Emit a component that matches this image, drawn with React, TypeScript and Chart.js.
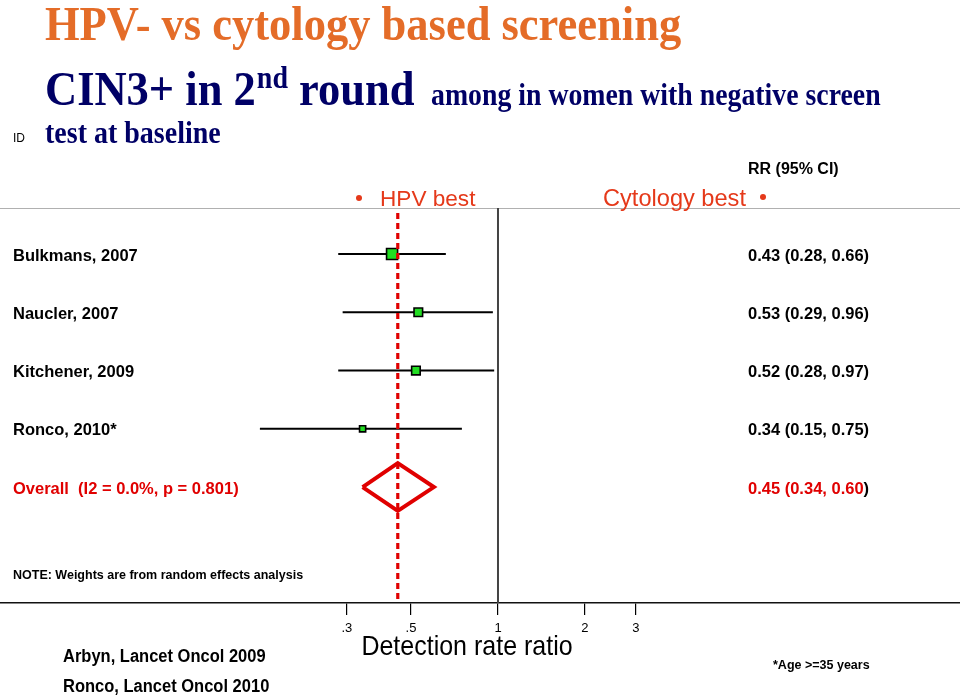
import React, { useEffect, useRef } from "react";
import { Chart, registerables } from "chart.js";

Chart.register(...registerables);

// ---------- data ----------
const studies = ["Bulkmans, 2007", "Naucler, 2007", "Kitchener, 2009", "Ronco, 2010*"];
const rr = [0.43, 0.53, 0.52, 0.34];
const lower = [0.28, 0.29, 0.28, 0.15];
const upper = [0.66, 0.96, 0.97, 0.75];
const weights = [39.7, 24.0, 24.0, 12.3];
const overallLabel = "Overall  (I2 = 0.0%, p = 0.801)";
const overallRR = 0.45;
const overallLower = 0.34;
const overallUpper = 0.6;
const tickValues = [0.3, 0.5, 1, 2, 3];
const tickLabels = [".3", ".5", "1", "2", "3"];

// ---------- layout / style constants ----------
const W = 960;
const H = 696;
const X_MIN = 0.01891;
const X_MAX = 39.7;
const Y_MIN = -0.79;
const Y_MAX = 5.99;
const OVERALL_ROW = 4;
const DIAMOND_HALF = 0.41;
const NAVY = "#000066";
const ORANGE = "#E46C28";
const RED_ORANGE = "#E5391A";
const RED = "#E00000";
const SANS = '"Liberation Sans", Arial, sans-serif';
const SERIF = '"Liberation Serif", "Times New Roman", serif';

const fmt = (v: number) => v.toFixed(2);

function txt(
  ctx: CanvasRenderingContext2D,
  s: string,
  x: number,
  y: number,
  font: string,
  color: string,
  opts: { align?: CanvasTextAlign; sy?: number; sx?: number; baseline?: CanvasTextBaseline } = {}
) {
  ctx.save();
  ctx.translate(x, y);
  ctx.scale(opts.sx ?? 1, opts.sy ?? 1);
  ctx.font = font;
  ctx.fillStyle = color;
  ctx.textAlign = opts.align ?? "left";
  ctx.textBaseline = opts.baseline ?? "alphabetic";
  ctx.fillText(s, 0, 0);
  const w = ctx.measureText(s).width * (opts.sx ?? 1);
  ctx.restore();
  return w;
}

const backgroundPlugin = {
  id: "bg",
  beforeDraw(chart: any) {
    const ctx = chart.ctx;
    ctx.save();
    ctx.fillStyle = "#ffffff";
    ctx.fillRect(0, 0, chart.width, chart.height);
    ctx.restore();
  },
};

const refLinesPlugin = {
  id: "refLines",
  beforeDatasetsDraw(chart: any) {
    const { ctx, chartArea, scales } = chart;
    const x1 = scales.x.getPixelForValue(1);
    ctx.save();
    // top gray rule
    ctx.strokeStyle = "#b0b0b0";
    ctx.lineWidth = 1;
    ctx.beginPath();
    ctx.moveTo(0, chartArea.top + 0.5);
    ctx.lineTo(W, chartArea.top + 0.5);
    ctx.stroke();
    // null line at RR = 1
    ctx.strokeStyle = "#444";
    ctx.lineWidth = 2;
    ctx.beginPath();
    ctx.moveTo(x1, chartArea.top);
    ctx.lineTo(x1, chartArea.bottom);
    ctx.stroke();
    ctx.restore();
  },
  afterDatasetsDraw(chart: any) {
    const { ctx, chartArea, scales } = chart;
    const xo = scales.x.getPixelForValue(overallRR);
    ctx.save();
    ctx.strokeStyle = RED;
    ctx.lineWidth = 3.2;
    ctx.setLineDash([6, 4]);
    ctx.beginPath();
    ctx.moveTo(xo, chartArea.top + 5);
    ctx.lineTo(xo, chartArea.bottom);
    ctx.stroke();
    ctx.restore();
  },
};

const textPlugin = {
  id: "slideText",
  afterDraw(chart: any) {
    const { ctx, scales } = chart;
    const ys = scales.y;
    // headings
    txt(ctx, "HPV- vs cytology based screening", 45, 40, `bold 44.5px ${SERIF}`, ORANGE, { sy: 1.07 });
    let x = 45;
    x += txt(ctx, "CIN3+ in 2", x, 105, `bold 44.5px ${SERIF}`, NAVY, { sy: 1.1 });
    x += 1;
    x += txt(ctx, "nd", x, 88, `bold 28px ${SERIF}`, NAVY, { sy: 1.1 });
    txt(ctx, " round", x, 105, `bold 44.5px ${SERIF}`, NAVY, { sy: 1.1 });
    txt(ctx, "among in women with negative screen", 431, 105, `bold 27.8px ${SERIF}`, NAVY, { sy: 1.1 });
    txt(ctx, "ID", 13, 142, `12px ${SANS}`, "#000");
    txt(ctx, "test at baseline", 45, 143, `bold 28px ${SERIF}`, NAVY, { sy: 1.1 });

    // direction labels
    ctx.save();
    ctx.fillStyle = RED_ORANGE;
    ctx.beginPath();
    ctx.arc(359, 198, 3, 0, Math.PI * 2);
    ctx.fill();
    ctx.beginPath();
    ctx.arc(763, 197, 3, 0, Math.PI * 2);
    ctx.fill();
    ctx.restore();
    txt(ctx, "HPV best", 380, 206, `22.6px ${SANS}`, RED_ORANGE);
    txt(ctx, "Cytology best", 603, 206, `23.6px ${SANS}`, RED_ORANGE);
    txt(ctx, "RR (95% CI)", 748, 174, `bold 16px ${SANS}`, "#000");

    // rows
    const rowFont = `bold 16.5px ${SANS}`;
    studies.forEach((s, i) => {
      const y = ys.getPixelForValue(i) + 2;
      txt(ctx, s, 13, y, rowFont, "#000", { baseline: "middle" });
      txt(ctx, `${fmt(rr[i])} (${fmt(lower[i])}, ${fmt(upper[i])})`, 748, y, rowFont, "#000", { baseline: "middle" });
    });
    const yo = ys.getPixelForValue(OVERALL_ROW) + 2;
    txt(ctx, overallLabel, 13, yo, rowFont, RED, { baseline: "middle" });
    const wr = txt(ctx, `${fmt(overallRR)} (${fmt(overallLower)}, ${fmt(overallUpper)}`, 748, yo, rowFont, RED, { baseline: "middle" });
    txt(ctx, ")", 748 + wr, yo, rowFont, "#000", { baseline: "middle" });

    txt(ctx, "NOTE: Weights are from random effects analysis", 13, 579, `bold 12.5px ${SANS}`, "#000");

    // axis title
    txt(ctx, "Detection rate ratio", 467, 655, `25px ${SANS}`, "#000", { align: "center", sy: 1.12 });

    // footnotes
    txt(ctx, "Arbyn, Lancet Oncol 2009", 63, 662, `bold 16.5px ${SANS}`, "#000", { sy: 1.1 });
    txt(ctx, "Ronco, Lancet Oncol 2010", 63, 692, `bold 16.5px ${SANS}`, "#000", { sy: 1.1 });
    txt(ctx, "*Age >=35 years", 773, 669, `bold 12.5px ${SANS}`, "#000");
  },
};

export default function App() {
  const ref = useRef<HTMLCanvasElement | null>(null);

  useEffect(() => {
    if (!ref.current) return;
    const squareRadius = weights.map((w) => (1.75 * Math.sqrt(w)) / Math.SQRT2);

    const ciSets = studies.map((s, i) => ({
      type: "scatter" as const,
      label: s + " CI",
      data: [
        { x: lower[i], y: i },
        { x: upper[i], y: i },
      ],
      showLine: true,
      borderColor: "#000",
      borderWidth: 2,
      pointRadius: 0,
      fill: false,
      order: 3,
    }));

    const chart = new Chart(ref.current, {
      type: "scatter",
      data: {
        datasets: [
          {
            label: "RR",
            data: rr.map((v, i) => ({ x: v, y: i })),
            pointStyle: "rect",
            pointRadius: squareRadius,
            pointBackgroundColor: "#22DD22",
            pointBorderColor: "#000",
            pointBorderWidth: 1.6,
            showLine: false,
            order: 1,
          } as any,
          {
            label: "Overall",
            data: [
              { x: overallLower, y: OVERALL_ROW },
              { x: overallRR, y: OVERALL_ROW - DIAMOND_HALF },
              { x: overallUpper, y: OVERALL_ROW },
              { x: overallRR, y: OVERALL_ROW + DIAMOND_HALF },
              { x: overallLower, y: OVERALL_ROW },
            ],
            showLine: true,
            borderColor: RED,
            borderWidth: 4,
            borderJoinStyle: "miter",
            pointRadius: 0,
            fill: false,
            tension: 0,
            order: 2,
          } as any,
          ...ciSets,
        ],
      },
      options: {
        responsive: false,
        animation: false,
        devicePixelRatio: 1,
        layout: { autoPadding: false, padding: { top: 208, left: 0, right: 0, bottom: 0 } },
        plugins: { legend: { display: false }, tooltip: { enabled: false } },
        scales: {
          x: {
            type: "logarithmic",
            position: "bottom",
            min: X_MIN,
            max: X_MAX,
            afterFit: (s: any) => {
              s.height = H - 603;
            },
            afterBuildTicks: (s: any) => {
              s.ticks = tickValues.map((v) => ({ value: v }));
            },
            ticks: {
              autoSkip: false,
              maxRotation: 0,
              padding: 6,
              color: "#000",
              font: { family: "Liberation Sans", size: 13 },
              callback: (v: any) => {
                const k = tickValues.indexOf(Number(v));
                return k >= 0 ? tickLabels[k] : "";
              },
            },
            grid: { drawOnChartArea: false, drawTicks: true, tickLength: 12, color: "#000", lineWidth: 1.2 },
            border: { display: true, color: "#111", width: 1.5 },
          } as any,
          y: {
            type: "linear",
            display: false,
            min: Y_MIN,
            max: Y_MAX,
            reverse: true,
          },
        },
      },
      plugins: [backgroundPlugin, refLinesPlugin, textPlugin],
    } as any);

    return () => chart.destroy();
  }, []);

  return (
    <div style={{ position: "absolute", left: 0, top: 0, width: W, height: H, background: "#fff" }}>
      <canvas ref={ref} width={W} height={H} style={{ display: "block", width: W, height: H }} />
    </div>
  );
}
